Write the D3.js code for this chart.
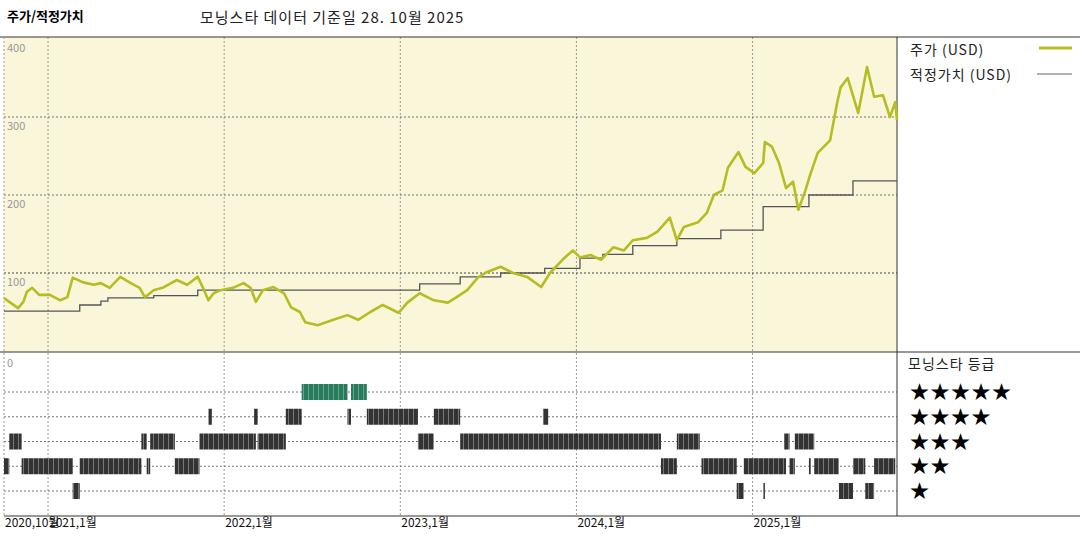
<!DOCTYPE html>
<html><head><meta charset="utf-8">
<script src="https://cdn.jsdelivr.net/npm/d3@7"></script>
<style>body{margin:0;background:#fff}svg{display:block}text{font-family:"Noto Sans CJK KR","Noto Sans",sans-serif}</style>
</head><body><svg id="c" width="1080" height="540"></svg>
<script>
const priceT=[2020.75,2020.78,2020.83,2020.86,2020.88,2020.91,2020.95,2021.01,2021.07,2021.11,2021.14,2021.20,2021.26,2021.30,2021.35,2021.41,2021.47,2021.52,2021.55,2021.60,2021.65,2021.73,2021.79,2021.85,2021.88,2021.91,2021.94,2021.98,2022.05,2022.11,2022.15,2022.18,2022.22,2022.28,2022.34,2022.38,2022.43,2022.46,2022.53,2022.62,2022.70,2022.76,2022.83,2022.90,2022.99,2023.04,2023.11,2023.19,2023.27,2023.32,2023.38,2023.44,2023.49,2023.57,2023.64,2023.72,2023.80,2023.85,2023.93,2023.98,2024.02,2024.08,2024.14,2024.21,2024.27,2024.32,2024.40,2024.46,2024.53,2024.57,2024.61,2024.69,2024.74,2024.78,2024.83,2024.86,2024.92,2024.96,2025.01,2025.06,2025.07,2025.11,2025.15,2025.19,2025.23,2025.26,2025.30,2025.33,2025.37,2025.44,2025.48,2025.50,2025.54,2025.60,2025.65,2025.69,2025.74,2025.78,2025.81,2025.82];
const priceV=[68,63,55,63,76,81,72,72,65,69,94,88,85,87,81,95,87,81,69,78,81,91,85,95,81,65,74,78,81,87,81,63,78,82,74,56,50,37,33,40,46,40,50,59,49,62,74,65,62,69,78,94,101,108,100,95,82,100,119,129,120,123,117,133,129,142,145,153,171,142,159,165,177,200,206,235,255,236,228,241,268,262,241,209,217,181,206,228,254,270,318,338,350,305,364,326,328,300,319,296];
const fairT=[2020.75,2021.18,2021.30,2021.34,2021.60,2021.85,2023.11,2023.34,2023.57,2023.82,2024.02,2024.15,2024.32,2024.57,2024.82,2025.06,2025.32,2025.57,2025.82];
const fairV=[51,59,64,68,71,78,86,95,100,106,119,124,135,144,155,185,200,218,218];
const ratingStars=[5,4,3,2,1];
const ratingSegs={
5:[[2022.44,2022.70],[2022.72,2022.81]],
4:[[2021.91,2021.93],[2022.17,2022.19],[2022.35,2022.44],[2022.70,2022.72],[2022.81,2023.10],[2023.19,2023.34],[2023.81,2023.84]],
3:[[2020.78,2020.85],[2021.53,2021.56],[2021.58,2021.72],[2021.86,2022.18],[2022.19,2022.35],[2023.10,2023.19],[2023.34,2024.48],[2024.57,2024.70],[2025.18,2025.21],[2025.24,2025.35]],
2:[[2020.75,2020.78],[2020.85,2021.14],[2021.18,2021.53],[2021.56,2021.58],[2021.72,2021.86],[2024.48,2024.57],[2024.71,2024.91],[2024.95,2025.19],[2025.21,2025.24],[2025.32,2025.33],[2025.35,2025.49],[2025.57,2025.64],[2025.69,2025.81]],
1:[[2021.14,2021.18],[2024.91,2024.95],[2025.06,2025.07],[2025.49,2025.57],[2025.64,2025.69]]};
const yTicks=[100,200,300,400];
const xTicks=[2021,2022,2023,2024,2025];
const xLabels=["2020,10월","2021,1월","2022,1월","2023,1월","2024,1월","2025,1월"];
const xLabelT=[2020.75,2021,2022,2023,2024,2025];

const svg=d3.select("#c");
const L=4,R=897,T=37,M=352,B=516;
const x=d3.scaleLinear().domain([2020.75,2025.82]).range([L,R]);
const y=d3.scaleLinear().domain([0,400]).range([351,39]);
const yr=d3.scalePoint().domain(ratingStars).range([392,491]);
const defs=svg.append("defs");
[["dk","#333","#777"],["gr","#2a7a5e","#5fa88a"]].forEach(([id,a,b])=>{
 const p=defs.append("pattern").attr("id",id).attr("width",5).attr("height",20).attr("patternUnits","userSpaceOnUse");
 p.append("rect").attr("width",5).attr("height",20).attr("fill",a);
 p.append("rect").attr("x",3).attr("width",1).attr("height",20).attr("fill",b);
});
svg.append("rect").attr("x",L).attr("y",T).attr("width",R-L).attr("height",M-T).attr("fill","#faf6d9");
svg.selectAll(".vg").data(xTicks).join("line").attr("x1",d=>x(d)).attr("x2",d=>x(d)).attr("y1",T).attr("y2",B).attr("stroke","#999").attr("stroke-dasharray","2,2");
svg.selectAll(".hg").data(yTicks.slice(0,3)).join("line").attr("x1",L).attr("x2",R).attr("y1",d=>y(d)).attr("y2",d=>y(d)).attr("stroke",d=>d===100?"#444":"#777").attr("stroke-dasharray","2,2");
svg.selectAll(".rg").data(ratingStars).join("line").attr("x1",L).attr("x2",R).attr("y1",d=>yr(d)).attr("y2",d=>yr(d)).attr("stroke","#777").attr("stroke-dasharray","2,2");
svg.selectAll(".yl").data(yTicks).join("text").attr("x",L+3).attr("y",d=>y(d)+13).attr("font-size",11).attr("fill","#999").text(d=>d);
svg.append("text").attr("x",L+3).attr("y",367).attr("font-size",11).attr("fill","#999").text("0");
const ln=(x1,y1,x2,y2,c="#333")=>svg.append("line").attr("x1",x1).attr("y1",y1).attr("x2",x2).attr("y2",y2).attr("stroke",c);
ln(0,T,1080,T);ln(0,M,1080,M);ln(L,B,1080,B);ln(R,T,R,B);
svg.append("line").attr("x1",L).attr("x2",L).attr("y1",T).attr("y2",B).attr("stroke","#999").attr("stroke-dasharray","2,2");
const fairD=fairT.map((t,i)=>[t,fairV[i]]);
svg.append("path").datum(fairD).attr("d",d3.line().x(d=>x(d[0])).y(d=>y(d[1])).curve(d3.curveStepAfter)).attr("fill","none").attr("stroke","#555").attr("stroke-width",1.3);
const priceD=priceT.map((t,i)=>[t,priceV[i]]);
svg.append("path").datum(priceD).attr("d",d3.line().x(d=>x(d[0])).y(d=>y(d[1]))).attr("fill","none").attr("stroke","#b5bd22").attr("stroke-width",2.6).attr("stroke-linejoin","round");
ratingStars.forEach(s=>{
 svg.selectAll(null).data(ratingSegs[s]).join("rect").attr("x",d=>x(d[0])).attr("width",d=>Math.max(1.5,x(d[1])-x(d[0]))).attr("y",yr(s)-8).attr("height",16).attr("fill",s===5?"url(#gr)":"url(#dk)");
});
svg.selectAll(".xl").data(xLabelT).join("text").attr("x",d=>x(d)+1).attr("y",527).attr("font-size",12).attr("fill","#111").text((d,i)=>xLabels[i]);
svg.append("text").attr("x",7).attr("y",21).attr("font-size",13).attr("font-weight","bold").text("주가/적정가치");
svg.append("text").attr("x",200).attr("y",23).attr("font-size",15).attr("letter-spacing",1).attr("fill","#222").text("모닝스타 데이터 기준일 28. 10월 2025");
svg.append("text").attr("x",910).attr("y",55).attr("font-size",14).attr("letter-spacing",1).attr("fill","#222").text("주가 (USD)");
ln(1039,48,1072,48,"#b5bd22").attr("stroke-width",3);
svg.append("text").attr("x",910).attr("y",80).attr("font-size",14).attr("letter-spacing",1).attr("fill","#222").text("적정가치 (USD)");
ln(1037,74,1072,74,"#666");
svg.append("text").attr("x",908).attr("y",369).attr("font-size",14).attr("letter-spacing",1).attr("fill","#222").text("모닝스타 등급");
svg.selectAll(".st").data(ratingStars).join("text").attr("x",910).attr("y",d=>yr(d)+7).attr("font-size",19).attr("letter-spacing",1.5).attr("fill","#000").attr("font-family","DejaVu Sans").text(d=>"★".repeat(d));
</script></body></html>
